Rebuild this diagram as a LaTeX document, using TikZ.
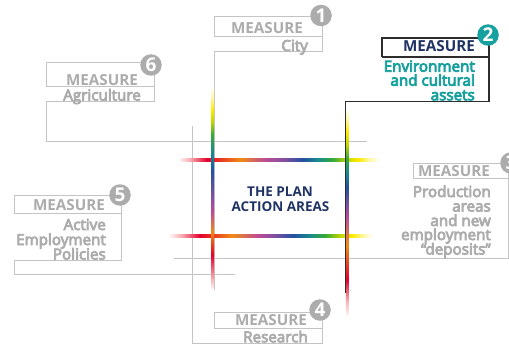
\documentclass[tikz,border=0pt]{standalone}
\usepackage{fontspec}
\setmainfont{Open Sans}
\newfontfamily\semib[FakeBold=5]{Open Sans}
\definecolor{lgray}{RGB}{196,196,196}
\definecolor{tgray}{RGB}{172,172,172}
\definecolor{tealc}{RGB}{22,160,158}
\definecolor{navy}{RGB}{32,52,100}
\definecolor{dark}{RGB}{45,45,45}
\definecolor{rbpink}{RGB}{246,170,175}
\definecolor{rbred}{RGB}{228,0,45}
\definecolor{rborange}{RGB}{240,140,20}
\definecolor{rbmag}{RGB}{190,75,150}
\definecolor{rbpurple}{RGB}{125,80,160}
\definecolor{rbblue}{RGB}{35,80,160}
\definecolor{rbteal}{RGB}{25,140,140}
\definecolor{rbgreen}{RGB}{55,170,55}
\definecolor{rbyg}{RGB}{190,215,0}
\definecolor{rbyellow}{RGB}{255,235,0}
\definecolor{rblyellow}{RGB}{255,248,175}
\pgfdeclarehorizontalshading{rainH1}{100bp}{color(0bp)=(white); color(25bp)=(white);
  color(28bp)=(rbpink); color(32.2bp)=(rbred); color(40.4bp)=(rborange); color(46.5bp)=(rbmag);
  color(51.5bp)=(rbpurple); color(55.9bp)=(rbblue); color(59.7bp)=(rbteal); color(63.4bp)=(rbgreen);
  color(66.6bp)=(rbyg); color(69.6bp)=(rbyellow); color(72.5bp)=(rblyellow); color(75bp)=(white); color(100bp)=(white)}
\pgfdeclarehorizontalshading{rainH2}{100bp}{color(0bp)=(white); color(25bp)=(white);
  color(28.4bp)=(rbpink); color(32.8bp)=(rbred); color(40.6bp)=(rborange); color(47bp)=(rbmag);
  color(51.1bp)=(rbpurple); color(55.5bp)=(rbblue); color(59.6bp)=(rbteal); color(63.3bp)=(rbgreen);
  color(67bp)=(rbyg); color(69.9bp)=(rbyellow); color(72.8bp)=(rblyellow); color(75bp)=(white); color(100bp)=(white)}
\pgfdeclareverticalshading{rainV1}{100bp}{color(0bp)=(white); color(25bp)=(white);
  color(27.9bp)=(rbpink); color(33.5bp)=(rbred); color(39.2bp)=(rborange); color(44bp)=(rbmag);
  color(48.2bp)=(rbpurple); color(53.8bp)=(rbblue); color(58.7bp)=(rbteal); color(62.8bp)=(rbgreen);
  color(66bp)=(rbyg); color(68.9bp)=(rbyellow); color(72.1bp)=(rblyellow); color(75bp)=(white); color(100bp)=(white)}
\pgfdeclareverticalshading{rainV2}{100bp}{color(0bp)=(white); color(25bp)=(white);
  color(29.1bp)=(rbpink); color(33.9bp)=(rbred); color(42.2bp)=(rborange); color(48.7bp)=(rbmag);
  color(51.8bp)=(rbpurple); color(55.9bp)=(rbblue); color(59.7bp)=(rbteal); color(63bp)=(rbgreen);
  color(66.2bp)=(rbyg); color(69.3bp)=(rbyellow); color(72.6bp)=(rblyellow); color(75bp)=(white); color(100bp)=(white)}
\begin{document}
\begin{tikzpicture}[x=1pt,y=-1pt,
  gline/.style={draw=lgray, line width=1pt},
  kline/.style={draw=dark, line width=1.1pt},
  meas/.style={font=\fontsize{15.2}{15}\selectfont\bfseries, text=tgray, inner sep=0pt, anchor=base east},
  subl/.style={font=\semib\fontsize{15.2}{14}\selectfont, text=tgray, inner sep=0pt, anchor=base east},
  num/.style={circle, fill=tgray, text=white, inner sep=0pt, minimum size=21.5pt, font=\fontsize{19}{19}\selectfont\bfseries},
  plan/.style={font=\fontsize{13.5}{15}\selectfont\bfseries, text=navy, inner sep=0pt, anchor=base}]
\useasboundingbox (0,0) rectangle (509,345);
\fill[white] (0,0) rectangle (509,345);

% free ends of the connector paths
\coordinate (e1) at (214.3,290);
\coordinate (e6) at (367,141.5);
\coordinate (e5) at (235,274);
\coordinate (e3) at (174,258.5);
\coordinate (e4) at (192,126);
\coordinate (e2) at (345.2,293);

% measure 1 (City)
\draw[gline] (214.3,37) -- (214.3,17) -- (322,17) -- (322,52) -- (214.3,52) -- (e1);
\draw[gline] (214.3,37) -- (322,37);
% measure 6 (Agriculture)
\draw[gline] (46,87) -- (46,63) -- (154,63) -- (154,102) -- (46,102) -- (46,141.5) -- (e6);
\draw[gline] (46,87) -- (154,87);
% measure 5 (Active Employment Policies)
\draw[gline] (14,213) -- (14,195) -- (121,195) -- (121,260) -- (14,260) -- (14,274) -- (e5);
\draw[gline] (14,213) -- (121,213);
% measure 3 (Production areas)
\draw[gline] (413,178) -- (413,163.5) -- (508,163.5) -- (508,258.5) -- (e3);
\draw[gline] (413,178) -- (508,178);
% measure 4 (Research)
\draw[gline] (214,328) -- (214,312) -- (322,312) -- (322,343) -- (192,343) -- (e4);
\draw[gline] (214,328) -- (322,328);

% rainbow frame
\shade[shading=rainH1] (178,158.5) rectangle (380,161.8);
\shade[shading=rainH2] (168,234.6) rectangle (373,237.9);
\shade[shading=rainV1] (211,85) rectangle (214,290);
\shade[shading=rainV2] (345.8,108) rectangle (348.7,317);

% measure 2 (Environment) - dark
\draw[kline] (382,57) -- (382,38) -- (489,38) -- (489,101.5) -- (345.2,101.5) -- (e2);
\draw[kline] (382,57) -- (489,57);

% number circles
\node[num] (n1) at (321,15.5) {1};
\node[num, fill=tealc] (n2) at (488,35) {2};
\node[num] (n3) at (511,163) {3};
\node[num] (n4) at (320,310) {4};
\node[num] (n5) at (120,195) {5};
\node[num] (n6) at (151,65) {6};

% texts
\node[meas] (m1) at (303,34) {MEASURE};
\node[subl] (s1) at (308,51) {City};

\node[meas, text=navy] (m2) at (475,51.7) {MEASURE};
\node[subl, text=tealc] (s2a) at (475,71.7) {Environment};
\node[subl, text=tealc] (s2b) at (475,85.7) {and cultural};
\node[subl, text=tealc] (s2c) at (475,100.3) {assets};

\node[meas] (m6) at (138,85) {MEASURE};
\node[subl] (s6) at (141,100.5) {Agriculture};

\node[meas] (m5) at (105,210) {MEASURE};
\node[subl] (s5a) at (106,230) {Active};
\node[subl] (s5b) at (106,245) {Employment};
\node[subl] (s5c) at (106,259.5) {Policies};

\node[meas] (m4) at (307,325) {MEASURE};
\node[subl] (s4) at (308,342.3) {Research};

\node[meas] (m3) at (490,176) {MEASURE};
\node[subl] (s3a) at (491,197) {Production};
\node[subl] (s3b) at (491,211.5) {areas};
\node[subl] (s3c) at (491,226) {and new};
\node[subl] (s3d) at (491,240) {employment};
\node[subl] (s3e) at (491,254.5) {“deposits”};

\node[plan] (p1) at (280,196) {THE PLAN};
\node[plan] (p2) at (280.5,211) {ACTION AREAS};
\end{tikzpicture}
\end{document}
